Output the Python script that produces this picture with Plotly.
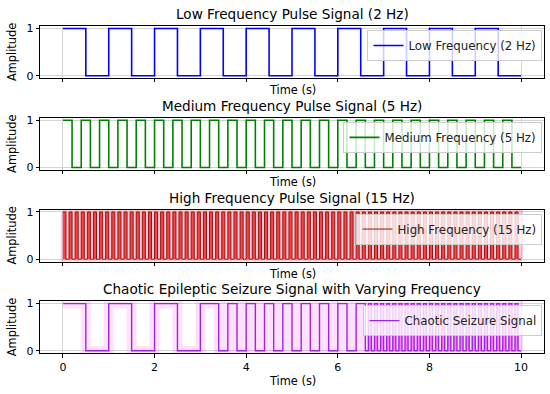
import plotly.graph_objects as go
import math

# ---- data ----
titles = ["Low Frequency Pulse Signal (2 Hz)",
          "Medium Frequency Pulse Signal (5 Hz)",
          "High Frequency Pulse Signal (15 Hz)",
          "Chaotic Epileptic Seizure Signal with Varying Frequency"]
legend_names = ["Low Frequency (2 Hz)", "Medium Frequency (5 Hz)",
                "High Frequency (15 Hz)", "Chaotic Seizure Signal"]

# segments of each pulse train: start time, end time, nominal frequency (Hz)
low_seg_start, low_seg_end, low_seg_freq = [0.0], [10.0], [2]
med_seg_start, med_seg_end, med_seg_freq = [0.0], [10.0], [5]
high_seg_start, high_seg_end, high_seg_freq = [0.0], [10.0], [15]
chaos_seg_start = [0.0, 3.2, 6.6]
chaos_seg_end = [3.2, 6.6, 10.0]
chaos_seg_freq = [2, 5, 15]

x_ticks = [0, 2, 4, 6, 8, 10]
y_ticks = [0, 1]

# ---- styles ----
line_colors = ["#0000ff", "#008000", "#8b1a0c", "#9b27d8"]
line_widths = [1.6, 1.6, 1.0, 1.4]
glow_colors = [None, None, "rgba(255,60,110,0.25)", "rgba(255,0,255,0.12)"]
fill_colors = [None, None, "rgba(255,0,0,0.75)", "rgba(255,0,255,0.45)"]
fill_min_freq = 15  # only fast pulse trains get the filled look


def pulse_steps(starts, ends, freqs, min_freq=None):
    xs, ys = [], []
    for a, b, f in zip(starts, ends, freqs):
        k = math.floor(a * f + 1e-9)
        level = 1 if k % 2 == 0 else 0
        level_on = 0 if (min_freq is not None and f < min_freq) else 1
        xs.append(a); ys.append(level * level_on)
        k += 1
        while k / f < b - 1e-9:
            level = 1 - level
            xs.append(k / f); ys.append(level * level_on)
            k += 1
    xs.append(ends[-1]); ys.append(ys[-1])
    return xs, ys


seg_tables = [(low_seg_start, low_seg_end, low_seg_freq),
              (med_seg_start, med_seg_end, med_seg_freq),
              (high_seg_start, high_seg_end, high_seg_freq),
              (chaos_seg_start, chaos_seg_end, chaos_seg_freq)]

# ---- layout geometry (pixels) ----
W, H = 550, 394
ML, MR = 40, 6
tops = [22.6, 116.3, 209.9, 303.4]
hgt = 53.0

fig = go.Figure()
FONT = "DejaVu Sans"
annotations = []
layout = {}

for i, seg in enumerate(seg_tables):
    xs, ys = pulse_steps(*seg)
    n = "" if i == 0 else str(i + 1)
    xa, ya = "x" + n, "y" + n
    leg = "legend" + n
    if fill_colors[i]:
        fx, fy = pulse_steps(*seg, min_freq=fill_min_freq)
        fig.add_trace(go.Scatter(x=fx, y=fy, mode="lines", line_shape="hv",
                                 line=dict(width=0), fill="tozeroy",
                                 fillcolor=fill_colors[i],
                                 xaxis=xa, yaxis=ya, showlegend=False,
                                 hoverinfo="skip"))
    if glow_colors[i]:
        fig.add_trace(go.Scatter(x=xs, y=ys, mode="lines", line_shape="hv",
                                 line=dict(color=glow_colors[i], width=10),
                                 xaxis=xa, yaxis=ya, showlegend=False,
                                 hoverinfo="skip"))
    fig.add_trace(go.Scatter(x=xs, y=ys, mode="lines", line_shape="hv",
                             line=dict(color=line_colors[i], width=line_widths[i]),
                             name=legend_names[i], xaxis=xa, yaxis=ya,
                             legend=leg))

    top = tops[i]
    bot = top + hgt
    dom = [1 - bot / H, 1 - top / H]
    last = i == 3
    layout["xaxis" + n] = dict(domain=[0, 1], anchor=ya, range=[-0.5, 10.5],
                               tickvals=x_ticks, showticklabels=last,
                               ticks="outside", ticklen=3.5, tickwidth=0.8,
                               tickcolor="black", showline=True, mirror=True,
                               linecolor="black", linewidth=0.8,
                               showgrid=True, gridcolor="#d4d4d4", gridwidth=0.8,
                               zeroline=False,
                               tickfont=dict(family=FONT, size=11, color="black"))
    layout["yaxis" + n] = dict(domain=dom, anchor=xa, range=[-0.05, 1.05],
                               tickvals=y_ticks, ticks="outside", ticklen=3.5,
                               tickwidth=0.8, tickcolor="black", showline=True,
                               mirror=True, linecolor="black", linewidth=0.8,
                               showgrid=True, gridcolor="#d4d4d4", gridwidth=0.8,
                               zeroline=False,
                               tickfont=dict(family=FONT, size=11, color="black"))
    layout[leg] = dict(x=0.997, xanchor="right", y=1 - (top + 4) / H,
                       yanchor="top", bgcolor="rgba(255,255,255,0.8)",
                       bordercolor="#cccccc", borderwidth=1,
                       font=dict(family=FONT, size=11.8, color="#222"))
    # subplot title
    annotations.append(dict(text=titles[i], xref="paper", yref="paper",
                            x=0.5, y=1 - (top - 12.3) / H, xanchor="center",
                            yanchor="middle", showarrow=False,
                            font=dict(family=FONT, size=13.6, color="black")))
    # x label
    xl_y = bot + (28 if last else 12.3)
    annotations.append(dict(text="Time (s)", xref="paper", yref="paper",
                            x=0.5, y=1 - xl_y / H, xanchor="center",
                            yanchor="middle", showarrow=False,
                            font=dict(family=FONT, size=11.4, color="black")))
    # y label
    annotations.append(dict(text="Amplitude", xref="paper", yref="paper",
                            x=(12 - ML) / (W - ML - MR), y=1 - (top + hgt / 2) / H,
                            xanchor="center", yanchor="middle", textangle=-90,
                            showarrow=False,
                            font=dict(family=FONT, size=11.4, color="black")))

fig.update_layout(width=W, height=H, margin=dict(l=ML, r=MR, t=0, b=0),
                  paper_bgcolor="white", plot_bgcolor="white",
                  annotations=annotations, font=dict(family=FONT), **layout)

fig.write_html("out.html", config={"displayModeBar": False},
               post_script="document.body.style.margin='0';"
                           "document.body.style.padding='0';"
                           "document.body.style.overflow='hidden';")
